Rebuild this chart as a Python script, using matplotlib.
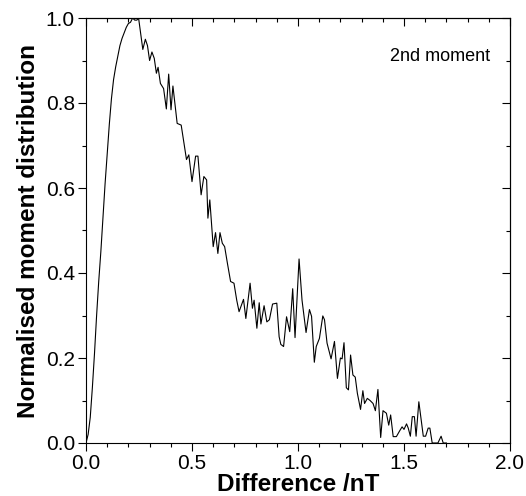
import matplotlib
matplotlib.use("Agg")
import matplotlib.pyplot as plt
from matplotlib.ticker import MultipleLocator

difference = [0.00, 0.01, 0.02, 0.03, 0.04, 0.05, 0.06, 0.07, 0.08, 0.09,
              0.10, 0.11, 0.12, 0.13, 0.14, 0.15, 0.16, 0.17, 0.18, 0.19,
              0.20, 0.21, 0.22, 0.23, 0.24, 0.248, 0.268, 0.28, 0.29, 0.30,
              0.311, 0.322, 0.332, 0.34, 0.351, 0.366, 0.379, 0.39, 0.401, 0.41,
              0.43, 0.449, 0.474, 0.485, 0.50, 0.517, 0.528, 0.543, 0.556, 0.569,
              0.575, 0.584, 0.60, 0.611, 0.622, 0.632, 0.643, 0.654, 0.667, 0.682,
              0.698, 0.711, 0.722, 0.743, 0.754, 0.774, 0.785, 0.793, 0.806, 0.817,
              0.825, 0.84, 0.853, 0.865, 0.88, 0.90, 0.911, 0.919, 0.932, 0.946,
              0.961, 0.975, 0.986, 1.005, 1.019, 1.038, 1.054, 1.064, 1.077, 1.086,
              1.101, 1.117, 1.125, 1.137, 1.156, 1.172, 1.186, 1.20, 1.208, 1.217,
              1.228, 1.238, 1.248, 1.259, 1.27, 1.28, 1.295, 1.306, 1.314, 1.327,
              1.34, 1.354, 1.365, 1.377, 1.39, 1.401, 1.417, 1.428, 1.437, 1.449,
              1.464, 1.48, 1.491, 1.50, 1.512, 1.52, 1.53, 1.539, 1.549, 1.557,
              1.57, 1.583, 1.591, 1.602, 1.614, 1.622, 1.633, 1.66, 1.675, 1.685,
              1.70]
moment = [0.00, 0.02, 0.06, 0.13, 0.21, 0.30, 0.38, 0.45, 0.53, 0.61,
          0.68, 0.75, 0.81, 0.855, 0.885, 0.91, 0.935, 0.952, 0.965, 0.978,
          0.987, 0.99, 1.00, 0.995, 0.995, 1.00, 0.926, 0.95, 0.935, 0.90,
          0.92, 0.905, 0.87, 0.884, 0.846, 0.834, 0.786, 0.868, 0.784, 0.84,
          0.752, 0.748, 0.667, 0.678, 0.615, 0.675, 0.675, 0.584, 0.627, 0.619,
          0.529, 0.572, 0.462, 0.495, 0.446, 0.495, 0.47, 0.462, 0.423, 0.38,
          0.376, 0.336, 0.309, 0.338, 0.293, 0.376, 0.317, 0.336, 0.27, 0.33,
          0.28, 0.323, 0.285, 0.29, 0.327, 0.329, 0.25, 0.232, 0.227, 0.297,
          0.262, 0.363, 0.248, 0.433, 0.336, 0.26, 0.314, 0.298, 0.19, 0.227,
          0.246, 0.299, 0.29, 0.235, 0.198, 0.239, 0.152, 0.20, 0.198, 0.236,
          0.13, 0.125, 0.207, 0.16, 0.155, 0.117, 0.079, 0.123, 0.093, 0.105,
          0.10, 0.093, 0.076, 0.126, 0.013, 0.076, 0.07, 0.042, 0.066, 0.015,
          0.015, 0.029, 0.038, 0.032, 0.045, 0.035, 0.016, 0.062, 0.062, 0.016,
          0.097, 0.046, 0.016, 0.016, 0.035, 0.035, 0.0, 0.0, 0.016, 0.0,
          0.0]

x_ticks = [0.0, 0.5, 1.0, 1.5, 2.0]
y_ticks = [0.0, 0.2, 0.4, 0.6, 0.8, 1.0]

plt.rcParams['font.family'] = ['Liberation Sans', 'DejaVu Sans']

fig = plt.figure(figsize=(5.26, 4.96), dpi=100)
ax = fig.add_axes([86/526, 53/496, 424/526, 425/496])

ax.plot(difference, moment, color='black', linewidth=0.8)

ax.set_xlim(0, 2.0)
ax.set_ylim(0, 1.0)
ax.set_xticks(x_ticks)
ax.set_yticks(y_ticks)
ax.set_xticklabels([f"{v:.1f}" for v in x_ticks])
ax.set_yticklabels([f"{v:.1f}" for v in y_ticks])
ax.xaxis.set_minor_locator(MultipleLocator(0.1))
ax.yaxis.set_minor_locator(MultipleLocator(0.1))

ax.tick_params(axis='both', which='major', labelsize=15, width=0.8, length=6,
               direction='out', top=False, right=False, pad=2)
ax.tick_params(axis='both', which='minor', width=0.8, length=3,
               direction='out', top=False, right=False)

# inward ticks on top and right
sec_x = ax.secondary_xaxis('top')
sec_x.set_xticks(x_ticks)
sec_x.xaxis.set_minor_locator(MultipleLocator(0.1))
sec_x.tick_params(which='major', direction='in', length=6, width=0.8, labeltop=False)
sec_x.tick_params(which='minor', direction='in', length=3, width=0.8)
sec_x.set_xticklabels([])
sec_y = ax.secondary_yaxis('right')
sec_y.set_yticks(y_ticks)
sec_y.yaxis.set_minor_locator(MultipleLocator(0.1))
sec_y.tick_params(which='major', direction='in', length=6, width=0.8)
sec_y.tick_params(which='minor', direction='in', length=3, width=0.8)
sec_y.set_yticklabels([])

for s in ax.spines.values():
    s.set_linewidth(0.8)

ax.set_xlabel('Difference /nT', fontsize=17.5, fontweight='bold', labelpad=0)
ax.set_ylabel('Normalised moment distribution', fontsize=17.5, fontweight='bold', labelpad=4)

ax.text(1.905, 0.90, '2nd moment', fontsize=13, ha='right', va='baseline')

fig.savefig('out.png', dpi=100)
